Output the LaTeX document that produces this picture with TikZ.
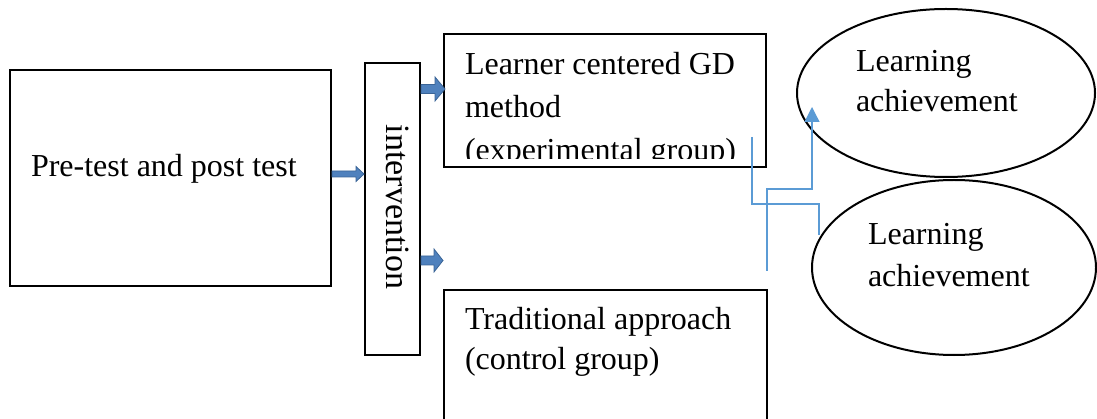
\documentclass[tikz,border=0pt]{standalone}
\usepackage{fontspec}
\setmainfont{Liberation Serif}
\usetikzlibrary{arrows.meta,calc,shapes.geometric}
\definecolor{bfill}{HTML}{4F81BD}
\definecolor{bedge}{HTML}{3A6496}
\definecolor{thinblue}{HTML}{5B9BD5}
\tikzset{
  boxshape/.style={draw=black, line width=2pt, rectangle, inner sep=0pt},
  ellshape/.style={draw=black, line width=2pt, ellipse, inner sep=0pt},
  txt/.style={inner sep=0pt, outer sep=0pt, anchor=base west, font=\fontsize{32}{43}\selectfont},
  barrow/.style={fill=bfill, draw=bedge, line width=0.8pt, line join=miter},
  thinline/.style={draw=thinblue, line width=1.3pt}
}
\begin{document}
\begin{tikzpicture}[x=1pt,y=-1pt]
\useasboundingbox (0,0) rectangle (1097,419);
% boxes
\node[boxshape, minimum width=321pt, minimum height=216pt] (pre) at (170.5,178) {};
\node[boxshape, minimum width=55pt, minimum height=292pt] (interv) at (392.5,209) {};
\node[boxshape, minimum width=322pt, minimum height=133pt] (learner) at (605,100.5) {};
\node[boxshape, minimum width=323pt, minimum height=134pt] (trad) at (605.5,357) {};
% ellipses
\node[ellshape, minimum width=298pt, minimum height=168pt] (ell1) at (946,93) {};
\node[ellshape, minimum width=284pt, minimum height=175pt] (ell2) at (954,267.5) {};
% texts
\node[txt] (pretxt) at (31,177) {Pre-test and post test};
\node[txt, rotate=-90, font=\fontsize{34}{43}\selectfont] (intertxt) at (386,125) {intervention};
\node[txt] (lt1) at (465,75) {Learner centered GD};
\node[txt] (lt2) at (465,118) {method};
\begin{scope}
\clip (444,34) rectangle (766,159);
\node[txt] (lt3) at (465,161) {(experimental group)};
\end{scope}
\node[txt] (tt1) at (465,330) {Traditional approach};
\node[txt] (tt2) at (465,370) {(control group)};
\node[txt] (e1a) at (856,72) {Learning};
\node[txt] (e1b) at (856,112) {achievement};
\node[txt] (e2a) at (868,245) {Learning};
\node[txt] (e2b) at (868,287) {achievement};
% block arrows
\coordinate (a1s) at (pre.east |- 0,174);
\coordinate (a1e) at (interv.west |- 0,174);
\draw[barrow] ($(a1s)+(0,-3)$) -- ($(a1e)+(-8,-3)$) -- ($(a1e)+(-8,-7.5)$) -- (a1e) -- ($(a1e)+(-8,7.5)$) -- ($(a1e)+(-8,3)$) -- ($(a1s)+(0,3)$) -- cycle;
\coordinate (a2s) at (interv.east |- 0,89);
\coordinate (a2e) at ($(learner.west |- 0,89)+(2,0)$);
\draw[barrow] ($(a2s)+(0,-4.5)$) -- ($(a2e)+(-10,-4.5)$) -- ($(a2e)+(-10,-12)$) -- (a2e) -- ($(a2e)+(-10,12)$) -- ($(a2e)+(-10,4.5)$) -- ($(a2s)+(0,4.5)$) -- cycle;
\coordinate (a3s) at (interv.east |- 0,260.5);
\coordinate (a3e) at (trad.west |- 0,260.5);
\draw[barrow] ($(a3s)+(0,-4.5)$) -- ($(a3e)+(-9,-4.5)$) -- ($(a3e)+(-9,-11.5)$) -- (a3e) -- ($(a3e)+(-9,11.5)$) -- ($(a3e)+(-9,4.5)$) -- ($(a3s)+(0,4.5)$) -- cycle;
% thin lines
\coordinate (la0) at (752,137);
\coordinate (la1) at (819,235);
\draw[thinline] (la0) |- (785.5,204) -| (la1);
\coordinate (lb0) at (767,271);
\coordinate (lb1) at (812,107);
\draw[thinline, -{Triangle[width=15pt,length=15pt]}] (lb0) |- (790,189) -| (lb1);
\end{tikzpicture}
\end{document}
